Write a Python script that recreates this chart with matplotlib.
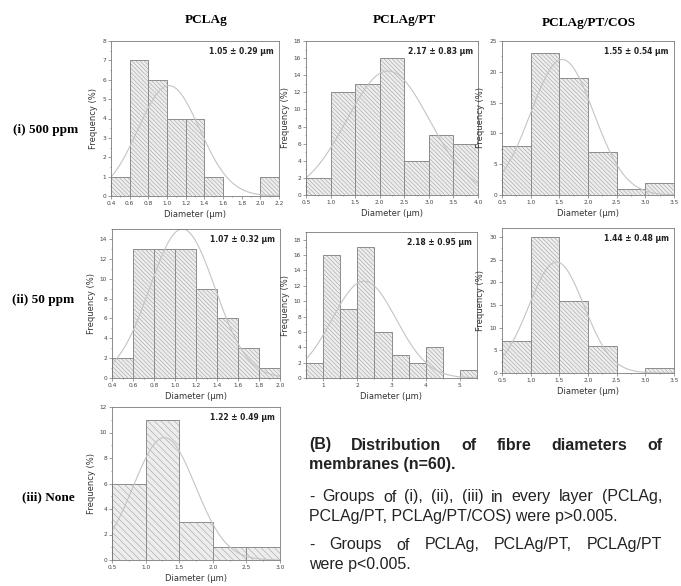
import numpy as np
import matplotlib
matplotlib.use("Agg")
import matplotlib.pyplot as plt
from matplotlib.ticker import AutoMinorLocator

# ---- data ----
col_titles = ["PCLAg", "PCLAg/PT", "PCLAg/PT/COS"]
row_titles = ["(i) 500 ppm", "(ii) 50 ppm", "(iii) None"]

# histogram bins: first edge, bin width, counts
p1_start, p1_width = 0.4, 0.2
p1_counts = [1, 7, 6, 4, 4, 1, 0, 0, 1]
p2_start, p2_width = 0.5, 0.5
p2_counts = [2, 12, 13, 16, 4, 7, 6]
p3_start, p3_width = 0.5, 0.5
p3_counts = [8, 23, 19, 7, 1, 2]
p4_start, p4_width = 0.4, 0.2
p4_counts = [2, 13, 13, 13, 9, 6, 3, 1]
p5_start, p5_width = 0.5, 0.5
p5_counts = [2, 16, 9, 17, 6, 3, 2, 4, 0, 1]
p6_start, p6_width = 0.5, 0.5
p6_counts = [7, 30, 16, 6, 0, 1]
p7_start, p7_width = 0.5, 0.5
p7_counts = [6, 11, 3, 1, 1]

# mean +- sd labels
labels = ["1.05 ± 0.29 μm", "2.17 ± 0.83 μm", "1.55 ± 0.54 μm",
          "1.07 ± 0.32 μm", "2.18 ± 0.95 μm", "1.44 ± 0.48 μm",
          "1.22 ± 0.49 μm"]

# fitted normal curve: centre, spread, peak height
fit_mean = [1.02, 2.17, 1.55, 1.07, 2.20, 1.45, 1.28]
fit_sd = [0.33, 0.84, 0.55, 0.31, 0.94, 0.48, 0.46]
fit_peak = [5.7, 14.5, 22.0, 15.0, 12.6, 24.5, 9.6]

xlims = [(0.4, 2.2), (0.5, 4.0), (0.5, 3.5), (0.4, 2.0), (0.5, 5.5), (0.5, 3.5), (0.5, 3.0)]
ylims = [(0, 8), (0, 18), (0, 25), (0, 15), (0, 19), (0, 32), (0, 12)]
xticks = [np.arange(0.4, 2.21, 0.2), np.arange(0.5, 4.01, 0.5), np.arange(0.5, 3.51, 0.5),
          np.arange(0.4, 2.01, 0.2), np.arange(1, 5.1, 1), np.arange(0.5, 3.51, 0.5),
          np.arange(0.5, 3.01, 0.5)]
yticks = [np.arange(0, 9, 1), np.arange(0, 19, 2), np.arange(0, 26, 5),
          np.arange(0, 15, 2), np.arange(0, 19, 2), np.arange(0, 31, 5),
          np.arange(0, 13, 2)]

starts = [p1_start, p2_start, p3_start, p4_start, p5_start, p6_start, p7_start]
widths = [p1_width, p2_width, p3_width, p4_width, p5_width, p6_width, p7_width]
counts = [p1_counts, p2_counts, p3_counts, p4_counts, p5_counts, p6_counts, p7_counts]

# axes boxes in pixels: left, right, top, bottom
W, H = 681, 586
boxes = [(111, 279, 41, 196), (306, 478, 41, 195), (502, 674, 41, 195),
         (112, 280, 229, 378), (306, 477, 232, 378), (502, 674, 228, 373),
         (112, 280, 407, 560)]

plt.rcParams['hatch.linewidth'] = 0.3
fig = plt.figure(figsize=(W / 100, H / 100), dpi=100)

edge = '#8c8c8c'
for i in range(7):
    l, r, t, b = boxes[i]
    ax = fig.add_axes([l / W, 1 - b / H, (r - l) / W, (b - t) / H])
    x = starts[i] + widths[i] * np.arange(len(counts[i]))
    hatch = '\\\\\\\\\\' if i == 6 else '\\\\\\\\\\\\\\\\'
    ax.bar(x, counts[i], width=widths[i], align='edge', color='#ededed',
           edgecolor=edge, linewidth=0.7, hatch=hatch)
    xs = np.linspace(xlims[i][0], xlims[i][1], 300)
    ax.plot(xs, fit_peak[i] * np.exp(-(xs - fit_mean[i]) ** 2 / (2 * fit_sd[i] ** 2)),
            color='#c4c4c4', lw=0.8)
    ax.set_xlim(xlims[i])
    ax.set_ylim(ylims[i])
    ax.set_xticks(xticks[i])
    ax.set_yticks(yticks[i])
    if i == 4:
        ax.set_xticklabels([str(int(v)) for v in xticks[i]])
    else:
        ax.set_xticklabels(["%.1f" % v for v in xticks[i]])
    ax.xaxis.set_minor_locator(AutoMinorLocator(2))
    ax.yaxis.set_minor_locator(AutoMinorLocator(2))
    ax.tick_params(which='both', direction='out', width=0.5, color='#777777',
                   labelsize=4.2, labelcolor='#444444', pad=1.5)
    ax.tick_params(which='major', length=2)
    ax.tick_params(which='minor', length=1)
    for s in ax.spines.values():
        s.set_color('#7a7a7a')
        s.set_linewidth(0.6)
    ax.set_xlabel("Diameter (μm)", fontsize=6, color='#333333', labelpad=3)
    ax.set_ylabel("Frequency (%)", fontsize=6, color='#333333', labelpad=3)
    ax.text(0.97, 0.93, labels[i], transform=ax.transAxes, ha='right', va='center',
            fontsize=5.5, fontweight='bold', color='#222222')

# column and row titles
col_x = [206, 404, 589]
col_y = [20, 20, 23]
for cx, cy, txt in zip(col_x, col_y, col_titles):
    fig.text(cx / W, 1 - cy / H, txt, ha='center', va='center', fontsize=9.5,
             fontweight='bold', family='Liberation Serif')
row_x = [13, 12, 22]
row_y = [130, 300, 497]
for rx, ry, txt in zip(row_x, row_y, row_titles):
    fig.text(rx / W, 1 - ry / H, txt, ha='left', va='center', fontsize=9.5,
             fontweight='bold', family='Liberation Serif')

# justified text block
renderer = fig.canvas.get_renderer()


def justify(line, y, x0, x1, **kw):
    words = line.split(' ')
    texts = [fig.text(0, y, w, va='center', **kw) for w in words]
    wd = [t.get_window_extent(renderer).width / fig.bbox.width for t in texts]
    gap = (x1 - x0 - sum(wd)) / (len(words) - 1)
    xx = x0
    for t, w_ in zip(texts, wd):
        t.set_x(xx)
        xx += w_ + gap


tx0, tx1 = 309 / W, 662 / W
bold = dict(fontsize=11.5, fontweight='bold', family='Liberation Sans', color='#222222')
reg = dict(fontsize=11.5, family='Liberation Sans', color='#222222')
justify("(B) Distribution of fibre diameters of", 1 - 445 / H, tx0, tx1, **bold)
fig.text(tx0, 1 - 465 / H, "membranes (n=60).", va='center', **bold)
justify("- Groups of (i), (ii), (iii) in every layer (PCLAg,", 1 - 497 / H, tx0, tx1, **reg)
fig.text(tx0, 1 - 517 / H, "PCLAg/PT, PCLAg/PT/COS) were p>0.005.", va='center', **reg)
justify("- Groups of PCLAg, PCLAg/PT, PCLAg/PT", 1 - 545 / H, tx0, tx1, **reg)
fig.text(tx0, 1 - 564 / H, "were p<0.005.", va='center', **reg)

fig.savefig("out.png", dpi=100)
